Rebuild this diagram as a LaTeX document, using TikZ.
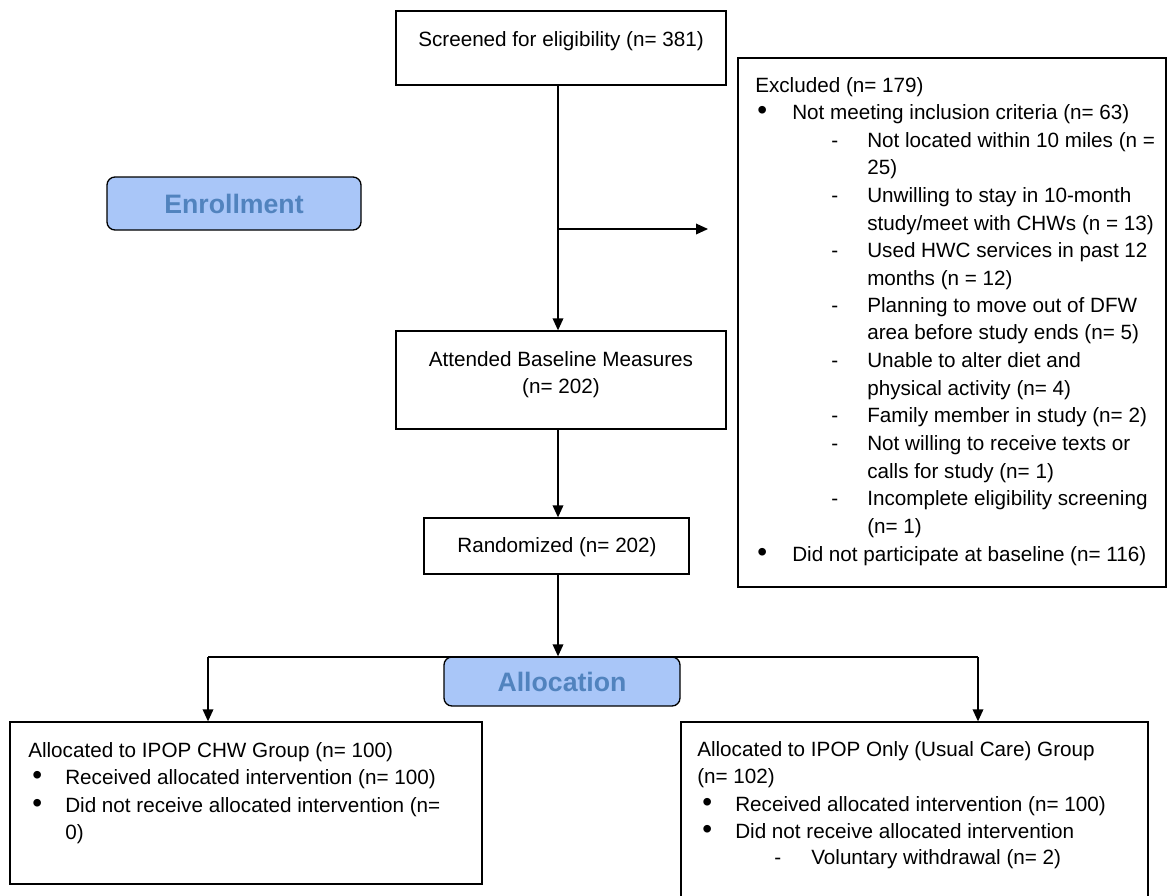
\documentclass[tikz,border=0pt]{standalone}
\usepackage{fontspec}
\setmainfont{Liberation Sans}
\usetikzlibrary{arrows.meta,fit}
\definecolor{boxblue}{HTML}{A9C6F8}
\definecolor{labelblue}{HTML}{5183BE}
\newcommand{\bul}{{\fontsize{21}{24}\selectfont\textbullet}}
\begin{document}
\begin{tikzpicture}[x=0.75pt,y=-0.75pt,
  box/.style={draw, line width=1pt, rectangle, inner sep=0pt},
  stage/.style={draw, line width=1pt, rounded corners=6pt, fill=boxblue, inner sep=0pt},
  stagetxt/.style={text=labelblue, inner sep=0pt, font=\fontsize{20}{24}\selectfont\bfseries},
  txt/.style={anchor=base west, yshift=-4.9pt, inner sep=0pt, font=\fontsize{15.5}{20}\selectfont},
  ctxt/.style={anchor=base, yshift=-4.9pt, inner sep=0pt, font=\fontsize{15.5}{20}\selectfont},
  conn/.style={line width=1pt, -{Triangle[length=9pt,width=8pt]}},
  plainline/.style={line width=1pt}]
\useasboundingbox (0,0) rectangle (1168,896);

% boxes
\node[box, fit={(396,11) (726,85)}] (scr) {};
\node[ctxt] (scrt) at (561,40) {Screened for eligibility (n= 381)};

\node[stage, fit={(107,177) (361,230)}] (enr) {};
\node[stagetxt] (enrt) at (enr.center) {Enrollment};

\node[box, fit={(738,58) (1166,587)}] (exc) {};

\node[box, fit={(396,331) (726,429)}] (att) {};
\node[ctxt] (attt1) at (561,360) {Attended Baseline Measures};
\node[ctxt] (attt2) at (561,387) {(n= 202)};

\node[box, fit={(424,518) (689,574)}] (rnd) {};
\node[ctxt] (rndt) at (557,546) {Randomized (n= 202)};

\node[stage, fit={(444,657) (680,706)}] (alloc) {};
\node[stagetxt] (alloct) at (alloc.center) {Allocation};

\node[box, fit={(10,722) (482,884)}] (lbox) {};
\node[box, fit={(681,722) (1148,898)}] (rbox) {};

% excluded text
\node[txt] (e1) at (755,86) {Excluded (n= 179)};
\node[txt] (b1) at (757,113) {\bul};
\node[txt] (e2) at (792,113) {Not meeting inclusion criteria (n= 63)};
\node[txt] (d1) at (831,141) {-};
\node[txt] (e3) at (867,141) {Not located within 10 miles (n =};
\node[txt] (e4) at (867,168) {25)};
\node[txt] (d2) at (831,196) {-};
\node[txt] (e5) at (867,196) {Unwilling to stay in 10-month};
\node[txt] (e6) at (867,224) {study/meet with CHWs (n = 13)};
\node[txt] (d3) at (831,251) {-};
\node[txt] (e7) at (867,251) {Used HWC services in past 12};
\node[txt] (e8) at (867,279) {months (n = 12)};
\node[txt] (d4) at (831,306) {-};
\node[txt] (e9) at (867,306) {Planning to move out of DFW};
\node[txt] (e10) at (867,333) {area before study ends (n= 5)};
\node[txt] (d5) at (831,361) {-};
\node[txt] (e11) at (867,361) {Unable to alter diet and};
\node[txt] (e12) at (867,389) {physical activity (n= 4)};
\node[txt] (d6) at (831,416) {-};
\node[txt] (e13) at (867,416) {Family member in study (n= 2)};
\node[txt] (d7) at (831,444) {-};
\node[txt] (e14) at (867,444) {Not willing to receive texts or};
\node[txt] (e15) at (867,472) {calls for study (n= 1)};
\node[txt] (d8) at (831,499) {-};
\node[txt] (e16) at (867,499) {Incomplete eligibility screening};
\node[txt] (e17) at (867,527) {(n= 1)};
\node[txt] (b2) at (757,555) {\bul};
\node[txt] (e18) at (792,555) {Did not participate at baseline (n= 116)};

% left group text
\node[txt] (l1) at (28,751) {Allocated to IPOP CHW Group (n= 100)};
\node[txt] (lb1) at (32,778) {\bul};
\node[txt] (l2) at (65,778) {Received allocated intervention (n= 100)};
\node[txt] (lb2) at (32,806) {\bul};
\node[txt] (l3) at (65,806) {Did not receive allocated intervention (n=};
\node[txt] (l4) at (65,833) {0)};

% right group text
\node[txt] (r1) at (697,750) {Allocated to IPOP Only (Usual Care) Group};
\node[txt] (r2) at (697,777) {(n= 102)};
\node[txt] (rb1) at (702,805) {\bul};
\node[txt] (r3) at (735,805) {Received allocated intervention (n= 100)};
\node[txt] (rb2) at (702,832) {\bul};
\node[txt] (r4) at (735,832) {Did not receive allocated intervention};
\node[txt] (rd1) at (774,858) {-};
\node[txt] (r5) at (811,858) {Voluntary withdrawal (n= 2)};

% connectors
\coordinate (branch) at (558,229);
\coordinate (exend) at (708,229);
\coordinate (lsplit) at (208,657);
\coordinate (rsplit) at (978,657);
\draw[conn] (scr.south -| branch) -- (att.north -| branch);
\draw[conn] (branch) -- (exend);
\draw[conn] (att.south -| branch) -- (rnd.north -| branch);
\draw[conn] (rnd.south -| branch) -- (alloc.north -| branch);
\draw[plainline] (lsplit) -- (rsplit);
\draw[conn] (lsplit) -- (lsplit |- lbox.north);
\draw[conn] (rsplit) -- (rsplit |- rbox.north);
\end{tikzpicture}
\end{document}
